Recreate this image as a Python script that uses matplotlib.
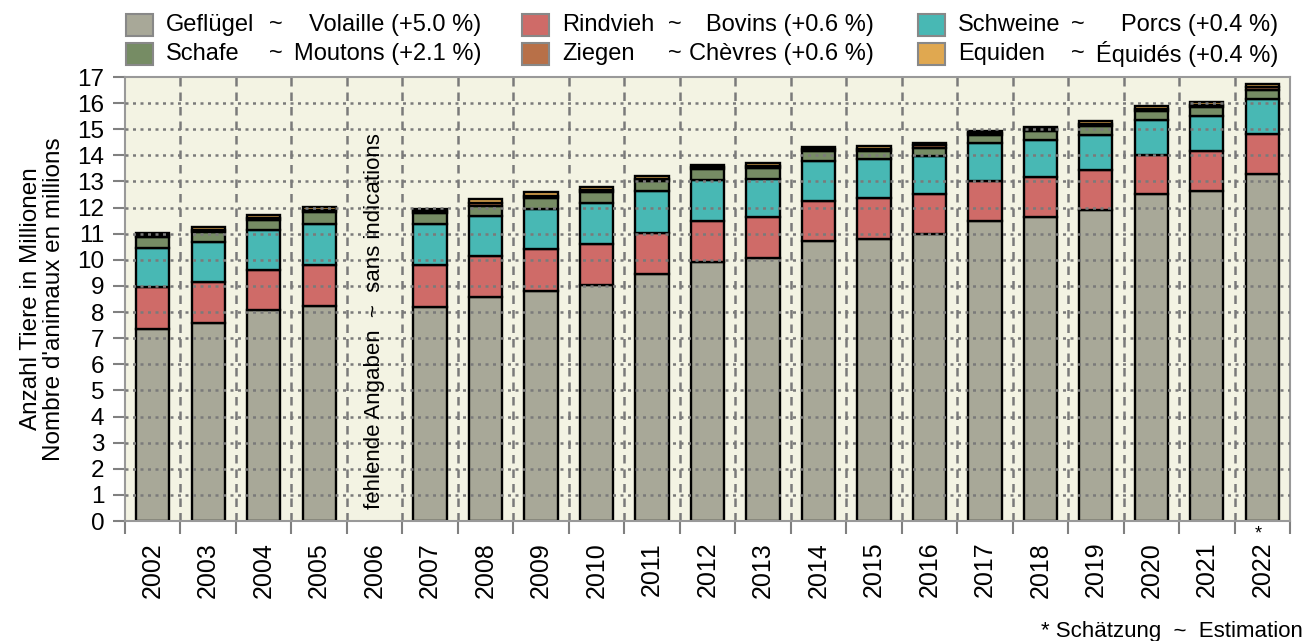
import numpy as np
import matplotlib
matplotlib.use('Agg')
import matplotlib.pyplot as plt
from matplotlib.patches import Rectangle

plt.rcParams['font.family'] = ['Liberation Sans', 'DejaVu Sans']

# data (millions of animals), 2006 has no values
years = [str(y) for y in range(2002, 2023)]
gefluegel = [7.35, 7.59, 8.09, 8.25, np.nan, 8.20, 8.56, 8.81, 9.02, 9.45, 9.93,
             10.06, 10.71, 10.81, 10.98, 11.50, 11.64, 11.91, 12.52, 12.65, 13.29]
rindvieh = [1.60, 1.57, 1.53, 1.57, np.nan, 1.60, 1.59, 1.60, 1.58, 1.59, 1.57,
            1.57, 1.56, 1.56, 1.55, 1.52, 1.53, 1.52, 1.51, 1.52, 1.52]
schweine = [1.50, 1.52, 1.52, 1.57, np.nan, 1.56, 1.53, 1.53, 1.59, 1.58, 1.54,
            1.48, 1.50, 1.48, 1.44, 1.45, 1.41, 1.34, 1.33, 1.34, 1.36]
schafe = [0.42, 0.39, 0.40, 0.44, np.nan, 0.42, 0.38, 0.41, 0.41, 0.39, 0.42,
          0.40, 0.38, 0.32, 0.33, 0.32, 0.35, 0.35, 0.35, 0.35, 0.35]
ziegen = [0.07, 0.07, 0.07, 0.07, np.nan, 0.08, 0.12, 0.10, 0.08, 0.09, 0.08,
          0.08, 0.08, 0.08, 0.08, 0.07, 0.07, 0.08, 0.08, 0.08, 0.08]
equiden = [0.10, 0.10, 0.10, 0.11, np.nan, 0.10, 0.14, 0.13, 0.11, 0.12, 0.10,
           0.11, 0.10, 0.10, 0.10, 0.09, 0.09, 0.10, 0.09, 0.10, 0.12]

series_de = ['Geflügel', 'Rindvieh', 'Schweine', 'Schafe', 'Ziegen', 'Equiden']
series_fr = ['Volaille', 'Bovins', 'Porcs', 'Moutons', 'Chèvres', 'Équidés']
changes = ['+5.0 %', '+0.6 %', '+0.4 %', '+2.1 %', '+0.6 %', '+0.4 %']
colors = ['#a8a898', '#cf6b68', '#48b8b4', '#768c64', '#b87048', '#e0a850']

FS = 17.5
W, H = 1306, 641
fig = plt.figure(figsize=(W / 100, H / 100), dpi=100)
ax = fig.add_axes([125 / W, 1 - 521 / H, (1290 - 125) / W, (521 - 77) / H])
ax.set_facecolor('#f3f3e3')

x = np.arange(len(years))
stack = [gefluegel, rindvieh, schweine, schafe, ziegen, equiden]
bottom = np.zeros(len(years))
for vals, col in zip(stack, colors):
    v = np.array(vals)
    ok = ~np.isnan(v)
    ax.bar(x[ok], v[ok], 0.6, bottom=bottom[ok], color=col,
           edgecolor='black', linewidth=1.7, zorder=2)
    bottom = bottom + np.nan_to_num(v)

# grid: dotted horizontal over the bars, dashed vertical between bars
for yv in range(1, 17):
    ax.axhline(yv, color='#7a7a7a', lw=1.8, dashes=(1.2, 1.8), zorder=3)
for xv in np.arange(0.5, len(years) - 1, 1):
    ax.axvline(xv, color='#7a7a7a', lw=1.8, dashes=(3.4, 2.4), zorder=1)

ax.set_xlim(-0.5, len(years) - 0.5)
ax.set_ylim(0, 17)
ax.set_yticks(range(0, 18))
ax.set_xticks(x)
ax.set_xticklabels(years, rotation=90, fontsize=18)
ax.set_xticks(np.arange(-0.5, len(years), 1), minor=True)
ax.tick_params(axis='x', which='major', length=0, pad=15)
ax.tick_params(axis='x', which='minor', length=9, width=1.5, color='#808080')
ax.tick_params(axis='y', length=9, width=1.5, color='#808080', labelsize=FS, pad=6)
for s in ax.spines.values():
    s.set_color('#999999')
    s.set_linewidth(1.5)

ax.set_ylabel("Anzahl Tiere in Millionen\nNombre d'animaux en millions",
              fontsize=FS, labelpad=9, linespacing=1.05)

ax.text(4, 7.67, 'fehlende Angaben  ~  sans indications', rotation=90,
        ha='center', va='center', fontsize=16, zorder=4)
ax.annotate('*', xy=(20, 0), xycoords=('data', 'axes fraction'),
            xytext=(-3, -9), textcoords='offset points',
            ha='center', va='center', fontsize=13)
fig.text(1303 / W, 1 - 631 / H, '* Schätzung  ~  Estimation',
         ha='right', va='center', fontsize=16)

# legend drawn by hand: 3 columns, 2 rows
LFS = 17
col_patch = [126, 522, 918]
col_tilde = [276, 675, 1078]
col_end = [481, 874, 1278]
row_y = [25, 54]
for k in range(len(series_de)):
    r, c = divmod(k, 3)
    yc = row_y[r]
    fig.patches.append(Rectangle((col_patch[c] / W, 1 - (yc + 10.5) / H), 27 / W, 21 / H,
                                 transform=fig.transFigure, facecolor=colors[k],
                                 edgecolor='#888888', lw=1.5))
    fig.text((col_patch[c] + 40) / W, 1 - yc / H, series_de[k],
             ha='left', va='center', fontsize=LFS)
    fig.text(col_tilde[c] / W, 1 - yc / H, '~', ha='center', va='center', fontsize=LFS)
    fig.text(col_end[c] / W, 1 - yc / H, series_fr[k] + ' (' + changes[k] + ')',
             ha='right', va='center', fontsize=LFS)

fig.savefig('out.png', dpi=100)
